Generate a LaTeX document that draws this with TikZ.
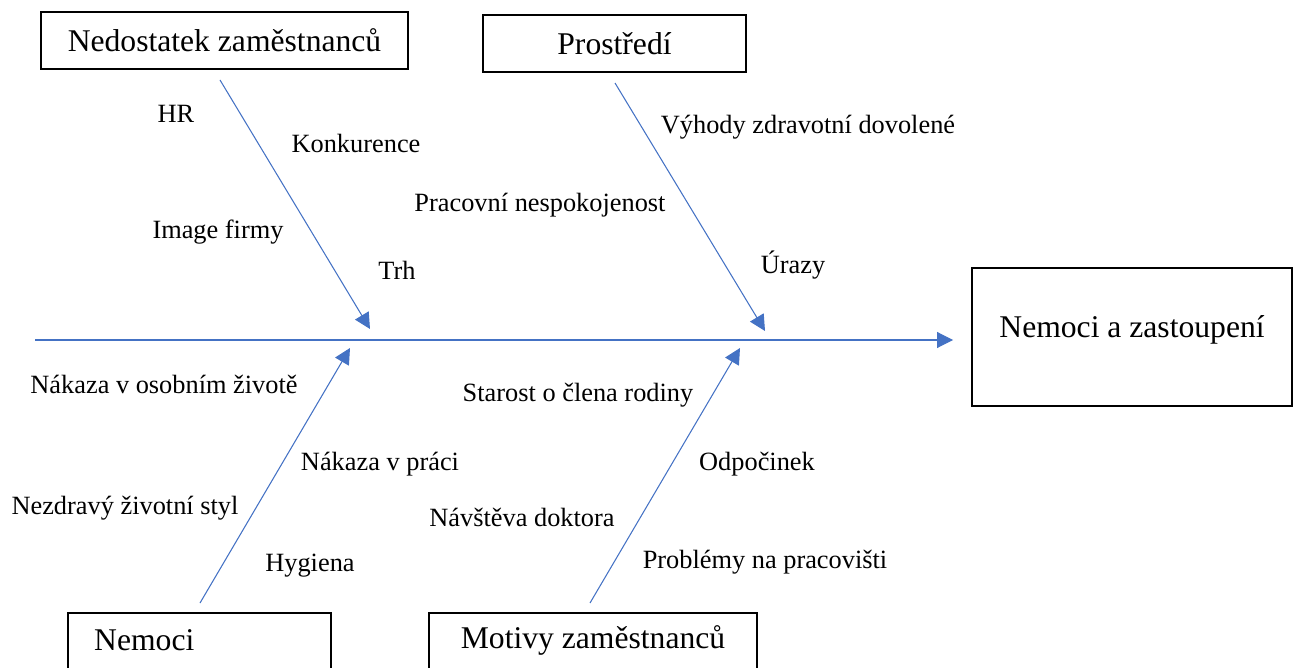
\documentclass[tikz,border=0pt]{standalone}
\usepackage{fontspec}
\setmainfont{Liberation Serif}
\usepackage{xcolor}
\usetikzlibrary{arrows.meta,positioning}
\definecolor{bone}{HTML}{4472C4}
\tikzset{
  causebox/.style={draw,line width=1.1pt,inner sep=0pt,font=\fontsize{18}{22}\selectfont},
  reason/.style={font=\fontsize{15}{18}\selectfont,inner sep=1pt},
  bonearrow/.style={bone,line width=0.6pt,-{Triangle[length=9pt,width=9pt]}}
}
\begin{document}
\begin{tikzpicture}[x=0.02cm,y=-0.02cm]
       \clip (0,0) rectangle (1293,668);
       % cause boxes
       \node[causebox,minimum width=367*0.02cm,minimum height=57*0.02cm] (staff) at (224.5,40.5) {Nedostatek zaměstnanců};
       \node[causebox,minimum width=263*0.02cm,minimum height=57*0.02cm] (env) at (614.5,43.5) {Prostředí};
       \node[causebox,minimum width=320*0.02cm,minimum height=138*0.02cm] (effect) at (1132,337) {};
       \node[font=\fontsize{18}{22}\selectfont] (effecttxt) at (1132,330) {Nemoci a zastoupení};
       \node[causebox,minimum width=263*0.02cm,minimum height=90*0.02cm] (ill) at (199.5,658) {};
       \node[font=\fontsize{18}{22}\selectfont,anchor=west] (illtxt) at (88,640) {Nemoci};
       \node[causebox,minimum width=328*0.02cm,minimum height=90*0.02cm] (motiv) at (593,658) {};
       \node[font=\fontsize{18}{22}\selectfont] (motivtxt) at (593,640) {Motivy zaměstnanců};
       % spine
       \coordinate (tail) at (35,340);
       \coordinate (head) at (953,340);
       \draw[bonearrow] (tail) -- (head);
       % bones
       \coordinate (s1) at (220,80);  \coordinate (e1) at (370,329);
       \coordinate (s2) at (615,83);  \coordinate (e2) at (765,331);
       \coordinate (s3) at (200,603); \coordinate (e3) at (350,348);
       \coordinate (s4) at (590,603); \coordinate (e4) at (740,348);
       \draw[bonearrow] (s1) -- (e1);
       \draw[bonearrow] (s2) -- (e2);
       \draw[bonearrow] (s3) -- (e3);
       \draw[bonearrow] (s4) -- (e4);
       % labels
       \node[reason] (hr) at (176,114) {HR};
       \node[reason] (konk) at (356,143) {Konkurence};
       \node[reason] (image) at (218,232) {Image firmy};
       \node[reason] (trh) at (397,270) {Trh};
       \node[reason] (vyhody) at (808,127) {Výhody zdravotní dovolené};
       \node[reason] (nespok) at (540,205) {Pracovní nespokojenost};
       \node[reason] (urazy) at (793,265) {Úrazy};
       \node[reason] (osobni) at (164,384) {Nákaza v osobním životě};
       \node[reason] (rodina) at (578,395) {Starost o člena rodiny};
       \node[reason] (prace) at (380,464) {Nákaza v práci};
       \node[reason] (odpoc) at (757,464) {Odpočinek};
       \node[reason] (styl) at (125,508) {Nezdravý životní styl};
       \node[reason] (doktor) at (522,517) {Návštěva doktora};
       \node[reason] (hyg) at (310,566) {Hygiena};
       \node[reason] (probl) at (765,562) {Problémy na pracovišti};
     \end{tikzpicture}
\end{document}
